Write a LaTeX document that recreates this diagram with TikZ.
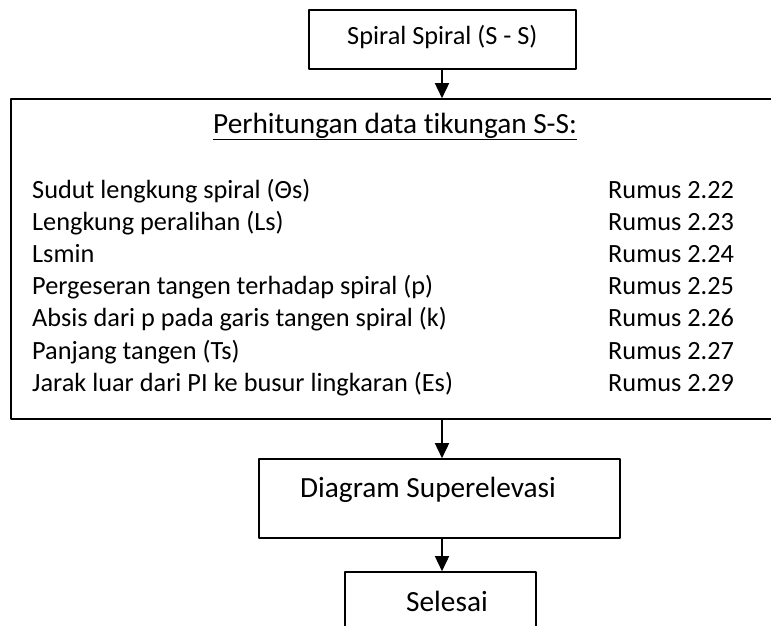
\documentclass[tikz,border=0pt]{standalone}
\usepackage{fontspec}
\setmainfont{Carlito}[Ligatures=NoCommon]
\usetikzlibrary{arrows.meta}
\begin{document}
\begin{tikzpicture}[x=1pt, y=-1pt, line join=round, >={Triangle[width=14pt,length=15pt]},
        kotak/.style={draw, line width=1.6pt, inner sep=0pt},
        teks/.style={font=\fontsize{26.3}{31}\selectfont, inner sep=0pt, anchor=base west},
        besar/.style={font=\fontsize{29.3}{35}\selectfont, inner sep=0pt, anchor=base west}]
        \useasboundingbox (0,0) rectangle (771,626);
        \clip (0,0) rectangle (771,626);
        \coordinate (panah) at (442,0);
        % kotak-kotak
        \node[kotak, minimum width=267pt, minimum height=59pt] (awal) at (442.5,39.5) {};
        \node[kotak, minimum width=790pt, minimum height=320pt] (hitung) at (406,259) {};
        \node[kotak, minimum width=361pt, minimum height=79pt] (diagram) at (439.5,498.5) {};
        \node[kotak, minimum width=191pt, minimum height=80pt] (selesai) at (440.5,612) {};
        % teks
        \node[teks] (tawal) at (347,45) {Spiral Spiral (S - S)};
        \node[besar] (judul) at (213,133) {\underline{Perhitungan data tikungan S-S:}};
        \foreach \isi/\rumus [count=\i from 0] in {%
            {Sudut lengkung spiral (Θs)}/2.22,
            {Lengkung peralihan (Ls)}/2.23,
            {Lsmin}/2.24,
            {Pergeseran tangen terhadap spiral (p)}/2.25,
            {Absis dari p pada garis tangen spiral (k)}/2.26,
            {Panjang tangen (Ts)}/2.27,
            {Jarak luar dari PI ke busur lingkaran (Es)}/2.29}
        {
            \node[teks] (item\i) at (32,{198+32.2*\i}) {\isi};
            \node[teks] (rumus\i) at (608,{198+32.2*\i}) {Rumus \rumus};
        }
        \node[besar] (tdiagram) at (300,497) {Diagram Superelevasi};
        \node[besar] (tselesai) at (406,611) {Selesai};
        % panah
        \draw[line width=1.6pt, ->] (awal.south -| panah) -- (hitung.north -| panah);
        \draw[line width=1.6pt, ->] (hitung.south -| panah) -- (diagram.north -| panah);
        \draw[line width=1.6pt, ->] (diagram.south -| panah) -- (selesai.north -| panah);
\end{tikzpicture}
\end{document}
